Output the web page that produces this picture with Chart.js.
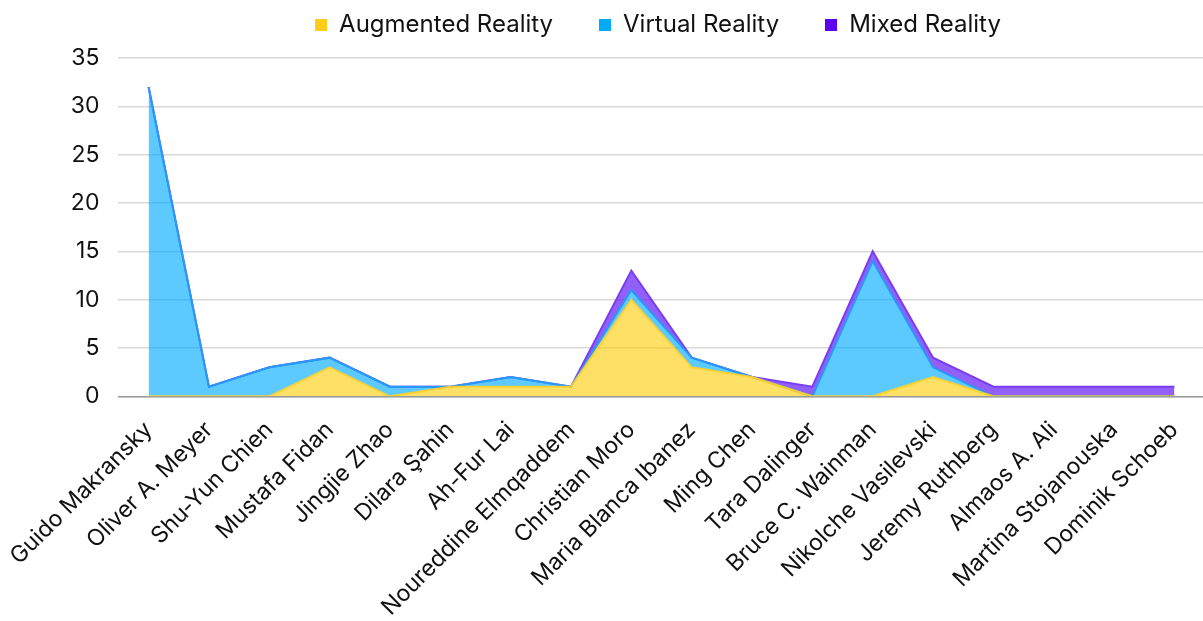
<!DOCTYPE html>
<html>
<head>
<meta charset="utf-8">
<script src="https://cdn.jsdelivr.net/npm/chart.js@4"></script>
<style>
  html, body { margin: 0; padding: 0; background: #fff; overflow: hidden; }
  #legend {
    position: absolute; left: 0; top: 0; width: 1203px; height: 44px;
    box-sizing: border-box; padding: 2px 0 0 113px;
    display: flex; justify-content: center; align-items: center;
    font-family: Inter, 'Noto Sans', sans-serif; font-size: 24px; color: #111;
  }
  #legend .item { display: flex; align-items: center; margin: 0 23px; }
  #legend .box { width: 12px; height: 12px; margin-right: 12px; margin-top: 3px; }
  #wrap { width: 1221px; height: 621px; margin-left: -8px; }
</style>
</head>
<body>
<div id="wrap"><canvas id="chart"></canvas></div>
<div id="legend"></div>
<script>
const authors = ['Guido Makransky', 'Oliver A. Meyer', 'Shu-Yun Chien', 'Mustafa Fidan', 'Jingjie Zhao',
    'Dilara Şahin', 'Ah-Fur Lai', 'Noureddine Elmqaddem', 'Christian Moro', 'Maria Blanca Ibanez',
    'Ming Chen', 'Tara Dalinger', 'Bruce C. Wainman', 'Nikolche Vasilevski', 'Jeremy Ruthberg',
    'Almaos A. Ali', 'Martina Stojanouska', 'Dominik Schoeb'];
const augmented = [0, 0, 0, 3, 0, 1, 1, 1, 10, 3, 2, 0, 0, 2, 0, 0, 0, 0];
const virtual   = [32, 1, 3, 1, 1, 0, 1, 0, 1, 1, 0, 0, 14, 1, 0, 0, 0, 0];
const mixed     = [0, 0, 0, 0, 0, 0, 0, 0, 2, 0, 0, 1, 1, 1, 1, 1, 1, 1];
const yTicks = [0, 5, 10, 15, 20, 25, 30, 35];

const font = "Inter, 'Noto Sans', sans-serif";

function serie(label, data, fill, line, key, zero) {
    return {
        label,
        data,
        fill: zero ? 'origin' : '-1',
        backgroundColor: fill,
        borderColor: line,
        borderWidth: 2,
        pointRadius: 0,
        pointHoverRadius: 0,
        tension: 0,
        legendColor: key
    };
}

const datasets = [
    serie('Augmented Reality', augmented, 'rgba(255,204,0,0.6)', 'rgba(255,210,40,0.9)', '#FFCC1A', true),
    serie('Virtual Reality', virtual, 'rgba(0,170,255,0.64)', '#2A98FA', '#00AAFF', false),
    serie('Mixed Reality', mixed, 'rgba(88,10,245,0.65)', '#7A3DF3', '#5B00F0', false)
];

// legend drawn as html over the top of the canvas
const legend = document.getElementById('legend');
datasets.forEach(ds => {
    legend.innerHTML += `<div class="item"><div class="box" style="background:${ds.legendColor}"></div>${ds.label}</div>`;
});

new Chart(document.getElementById('chart'), {
    type: 'line',
    data: { labels: authors, datasets },
    options: {
        responsive: true,
        maintainAspectRatio: false,
        animation: false,
        layout: { padding: { top: 58, right: 0, bottom: -20, left: 26 } },
        plugins: {
            legend: { display: false },
            tooltip: { enabled: false }
        },
        scales: {
            x: {
                offset: true,
                grid: { display: false, drawTicks: false },
                border: { color: '#9a9a9a', width: 1.5 },
                ticks: {
                    font: { family: font, size: 23 },
                    color: '#111',
                    maxRotation: 45,
                    minRotation: 45,
                    autoSkip: false,
                    padding: 20
                }
            },
            y: {
                stacked: true,
                min: 0,
                max: yTicks[yTicks.length - 1],
                afterBuildTicks: axis => { axis.ticks = yTicks.map(v => ({ value: v })); },
                grid: { color: '#d9d9d9', lineWidth: 1.5, drawTicks: false },
                border: { display: false },
                ticks: {
                    font: { family: font, size: 23 },
                    color: '#111',
                    padding: 19
                }
            }
        }
    }
});
</script>
</body>
</html>
